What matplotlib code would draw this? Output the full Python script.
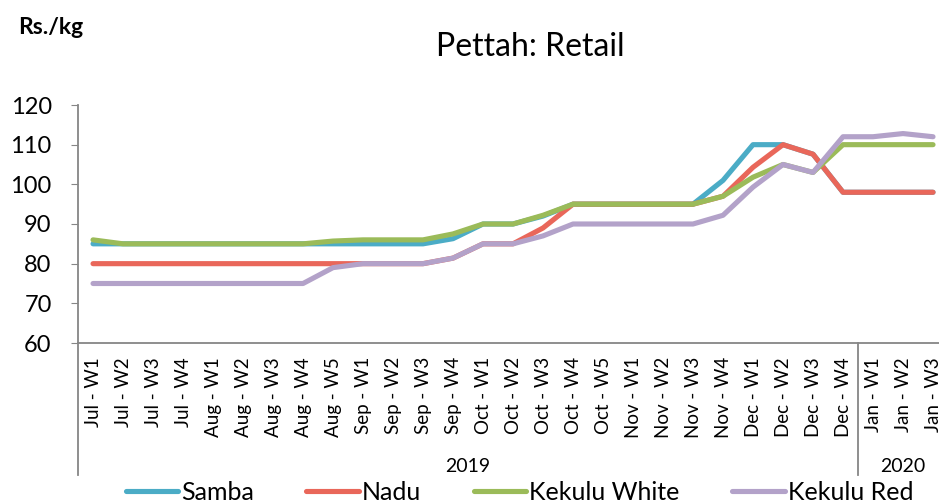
import matplotlib.pyplot as plt
from matplotlib import rcParams
import matplotlib.transforms as mtrans

rcParams['font.family'] = ['Lato', 'DejaVu Sans']

# weeks on the category axis
weeks = ['Jul - W1', 'Jul - W2', 'Jul - W3', 'Jul - W4',
         'Aug - W1', 'Aug - W2', 'Aug - W3', 'Aug - W4', 'Aug - W5',
         'Sep - W1', 'Sep - W2', 'Sep - W3', 'Sep - W4',
         'Oct - W1', 'Oct - W2', 'Oct - W3', 'Oct - W4', 'Oct - W5',
         'Nov - W1', 'Nov - W2', 'Nov - W3', 'Nov - W4',
         'Dec - W1', 'Dec - W2', 'Dec - W3', 'Dec - W4',
         'Jan - W1', 'Jan - W2', 'Jan - W3']
years = ['2019', '2020']
year_counts = [26, 3]

samba = [85, 85, 85, 85, 85, 85, 85, 85, 85, 85, 85, 85, 86.3,
         90, 90, 92, 95, 95, 95, 95, 95, 101,
         110, 110, 107.6, 98, 98, 98, 98]
nadu = [80, 80, 80, 80, 80, 80, 80, 80, 80, 80, 80, 80, 81.4,
        85, 85, 89, 95, 95, 95, 95, 95, 97,
        104.3, 110, 107.6, 98, 98, 98, 98]
kekulu_white = [86, 85, 85, 85, 85, 85, 85, 85, 85.7, 86, 86, 86, 87.5,
                90, 90, 92.2, 95, 95, 95, 95, 95, 97,
                101.8, 105, 103, 110, 110, 110, 110]
kekulu_red = [75, 75, 75, 75, 75, 75, 75, 75, 79, 80, 80, 80, 81.4,
              85, 85, 87, 90, 90, 90, 90, 90, 92.2,
              99.3, 105, 103, 112, 112, 112.8, 112]

series = [('Samba', samba, '#4BACC6'),
          ('Nadu', nadu, '#E9675A'),
          ('Kekulu White', kekulu_white, '#9BBB59'),
          ('Kekulu Red', kekulu_red, '#B3A2C9')]

axis_grey = '#868686'

fig = plt.figure(figsize=[9.39, 5.0], dpi=100)
ax = fig.add_axes([0.0831, 0.314, 0.9265, 0.476])

x = list(range(len(weeks)))
for name, vals, col in series:
    ax.plot(x, vals, color=col, lw=3.7, label=name, solid_capstyle='round',
            solid_joinstyle='round')

ax.set_xlim(-0.5, len(weeks) - 0.5)
ax.set_ylim(60, 120)
ax.set_yticks(range(60, 121, 10))
ax.set_xticks(x)
ax.set_xticklabels(weeks, rotation=90, fontsize=13.5)
ax.tick_params(axis='x', length=0, pad=10)
ax.tick_params(axis='y', length=5, color=axis_grey, labelsize=17, pad=14)

for s in ['top', 'right']:
    ax.spines[s].set_visible(False)
for s in ['left', 'bottom']:
    ax.spines[s].set_color(axis_grey)
    ax.spines[s].set_linewidth(1.3)

# year groups below the week labels
trans = mtrans.blended_transform_factory(ax.transData, ax.transAxes)
start = -0.5
for yr, n in zip(years, year_counts):
    ax.plot([start, start], [0, -0.555], color=axis_grey, lw=1.3,
            transform=trans, clip_on=False)
    ax.text(start + n / 2, -0.517, yr, transform=trans, ha='center',
            va='center', fontsize=14)
    start += n
ax.plot([start, start], [0, -0.555], color=axis_grey, lw=1.3,
        transform=trans, clip_on=False)

fig.text(0.565, 0.905, 'Pettah: Retail', ha='center', va='center', fontsize=23)
fig.text(0.019, 0.944, 'Rs./kg', ha='left', va='center', fontsize=16.5,
         fontweight='bold')

fig.legend(loc='center', bbox_to_anchor=(0.553, 0.015), ncol=4, frameon=False,
           fontsize=18, handlelength=2.1, handletextpad=0.12,
           columnspacing=2.1)

fig.savefig('out.png', dpi=100)
